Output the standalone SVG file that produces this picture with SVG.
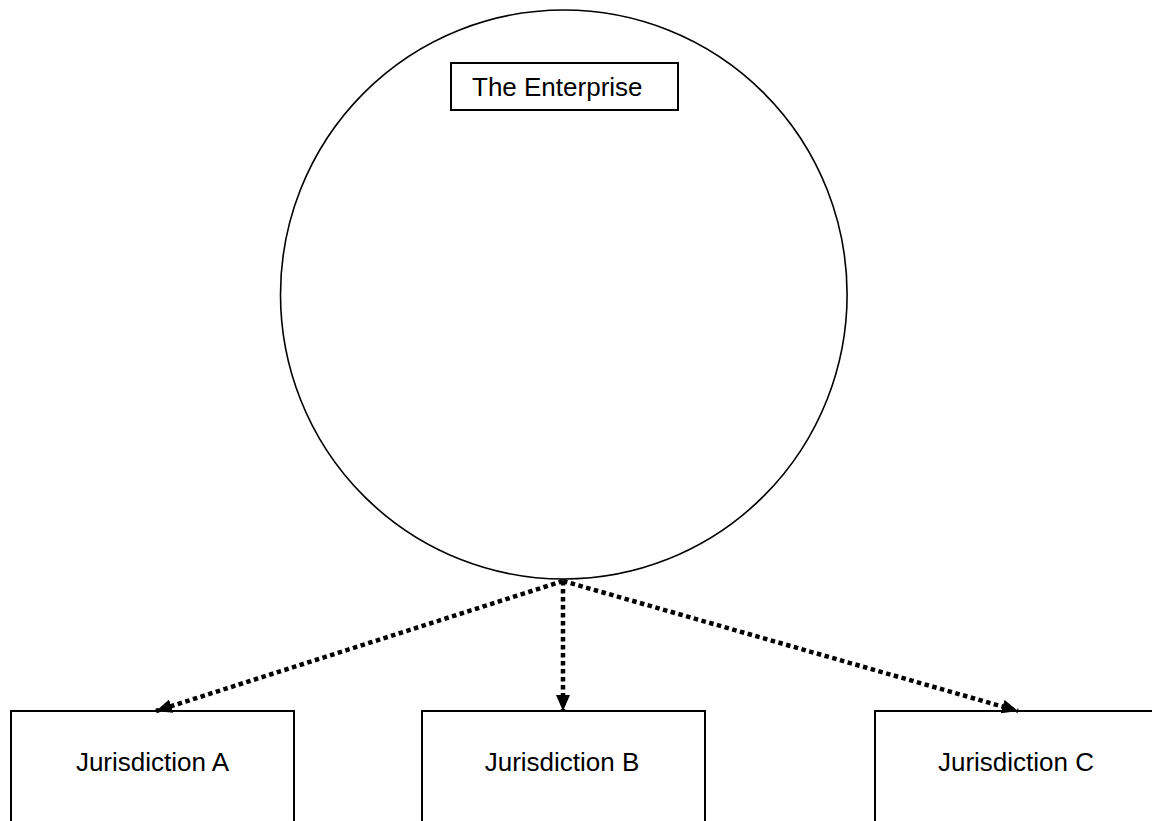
<svg xmlns="http://www.w3.org/2000/svg" width="1152" height="821" viewBox="0 0 1152 821">
<defs>
<style>
.box{fill:#fff;stroke:#000;stroke-width:2}
.lbl{font-family:"Liberation Sans",Arial,sans-serif;font-size:26px;fill:#000}
.conn{stroke:#000;stroke-width:4.5;stroke-dasharray:4.5 3.5;fill:none}
</style>
<marker id="ah" viewBox="0 0 16 14" refX="16" refY="7" markerWidth="16" markerHeight="14" markerUnits="userSpaceOnUse" orient="auto">
<path d="M0,0 L16,7 L0,14 Z" fill="#000"/>
</marker>
</defs>
<rect width="1152" height="821" fill="#fff"/>
<g id="enterprise">
<ellipse cx="563.8" cy="294.5" rx="283.3" ry="284.5" fill="none" stroke="#000" stroke-width="1.6"/>
<rect class="box" x="451" y="63" width="227" height="47"/>
<text class="lbl" x="472" y="96">The Enterprise</text>
</g>
<g id="jurA">
<rect class="box" x="11" y="711" width="283" height="130"/>
<text class="lbl" x="152.5" y="771" text-anchor="middle">Jurisdiction A</text>
</g>
<g id="jurB">
<rect class="box" x="422" y="711" width="283" height="130"/>
<text class="lbl" x="562" y="771" text-anchor="middle">Jurisdiction B</text>
</g>
<g id="jurC">
<rect class="box" x="875" y="711" width="283" height="130"/>
<text class="lbl" x="1016" y="771" text-anchor="middle">Jurisdiction C</text>
</g>
<g id="connectors">
<line class="conn" x1="563" y1="581" x2="156" y2="711" marker-end="url(#ah)"/>
<line class="conn" x1="563" y1="581" x2="563" y2="711" marker-end="url(#ah)"/>
<line class="conn" x1="563" y1="581" x2="1018" y2="711" marker-end="url(#ah)"/>
</g>
</svg>
